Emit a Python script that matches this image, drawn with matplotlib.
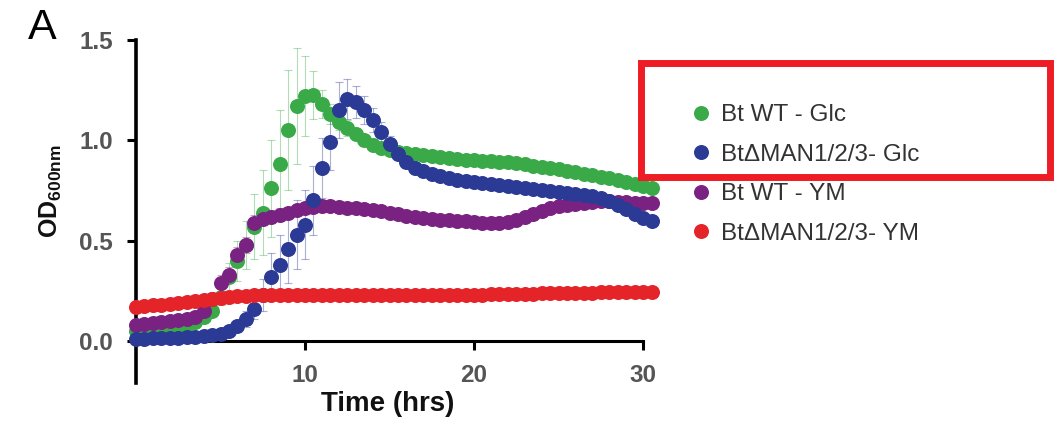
import numpy as np
import matplotlib
matplotlib.use("Agg")
import matplotlib.pyplot as plt
from matplotlib.patches import Rectangle

plt.rcParams['font.family'] = ['Liberation Sans', 'DejaVu Sans']
plt.rcParams['mathtext.fontset'] = 'custom'
plt.rcParams['mathtext.rm'] = 'Liberation Sans'
plt.rcParams['mathtext.bf'] = 'Liberation Sans:bold'

# ---------------- data ----------------
time_hrs = [i * 0.5 for i in range(62)]  # 0 .. 30.5 h

wt_glc = [0.05, 0.05, 0.055, 0.06, 0.065, 0.07, 0.08, 0.095, 0.12, 0.15,
          0.22, 0.32, 0.40, 0.48, 0.57, 0.64, 0.76, 0.88, 1.05, 1.17,
          1.22, 1.225, 1.18, 1.13, 1.09, 1.06, 1.03, 1.00, 0.975, 0.96,
          0.95, 0.94, 0.935, 0.93, 0.925, 0.92, 0.915, 0.91, 0.905, 0.90,
          0.90, 0.897, 0.895, 0.893, 0.89, 0.885, 0.88, 0.872, 0.865, 0.86,
          0.855, 0.848, 0.84, 0.832, 0.825, 0.818, 0.81, 0.80, 0.79, 0.78,
          0.77, 0.76]
wt_glc_err = [0.01, 0.01, 0.01, 0.01, 0.01, 0.01, 0.01, 0.01, 0.01, 0.02,
              0.04, 0.07, 0.10, 0.12, 0.16, 0.21, 0.24, 0.27, 0.30, 0.29,
              0.20, 0.12, 0.07, 0.05, 0.04, 0.04, 0.03, 0.03, 0.03, 0.03,
              0.03, 0.03, 0.03, 0.03, 0.03, 0.03, 0.02, 0.02, 0.02, 0.02,
              0.02, 0.02, 0.02, 0.02, 0.02, 0.02, 0.02, 0.02, 0.02, 0.02,
              0.02, 0.02, 0.02, 0.02, 0.02, 0.02, 0.02, 0.02, 0.02, 0.02,
              0.02, 0.02]

man_glc = [0.01, 0.01, 0.012, 0.013, 0.015, 0.016, 0.018, 0.02, 0.022, 0.027,
           0.035, 0.05, 0.075, 0.11, 0.16, 0.23, 0.32, 0.38, 0.46, 0.53,
           0.58, 0.70, 0.86, 0.99, 1.15, 1.205, 1.19, 1.15, 1.10, 1.04,
           0.98, 0.93, 0.89, 0.86, 0.845, 0.832, 0.82, 0.81, 0.80, 0.795,
           0.79, 0.785, 0.78, 0.775, 0.77, 0.765, 0.76, 0.755, 0.75, 0.747,
           0.743, 0.738, 0.733, 0.727, 0.72, 0.71, 0.695, 0.675, 0.655, 0.635,
           0.615, 0.60]
man_glc_err = [0.01, 0.01, 0.01, 0.01, 0.01, 0.01, 0.01, 0.01, 0.01, 0.01,
               0.01, 0.02, 0.03, 0.04, 0.05, 0.08, 0.12, 0.15, 0.17, 0.17,
               0.17, 0.17, 0.15, 0.14, 0.14, 0.10, 0.08, 0.07, 0.06, 0.05,
               0.04, 0.03, 0.03, 0.03, 0.03, 0.03, 0.03, 0.03, 0.02, 0.02,
               0.02, 0.02, 0.02, 0.02, 0.02, 0.02, 0.02, 0.02, 0.02, 0.02,
               0.02, 0.02, 0.02, 0.02, 0.02, 0.02, 0.02, 0.02, 0.02, 0.02,
               0.02, 0.02]

wt_ym = [0.08, 0.085, 0.09, 0.095, 0.10, 0.105, 0.11, 0.12, 0.15, 0.21,
         0.29, 0.33, 0.43, 0.48, 0.59, 0.61, 0.62, 0.63, 0.64, 0.65,
         0.66, 0.665, 0.67, 0.67, 0.667, 0.663, 0.66, 0.655, 0.65, 0.645,
         0.64, 0.633, 0.625, 0.618, 0.612, 0.608, 0.605, 0.602, 0.60, 0.597,
         0.593, 0.59, 0.588, 0.588, 0.593, 0.603, 0.617, 0.632, 0.647, 0.66,
         0.67, 0.677, 0.683, 0.688, 0.692, 0.695, 0.695, 0.693, 0.69, 0.688,
         0.687, 0.686]
wt_ym_err = [0.01] * 8 + [0.02, 0.03, 0.04, 0.04, 0.04, 0.04, 0.04, 0.03,
                          0.03, 0.03] + [0.02] * 44

man_ym = [0.17, 0.173, 0.177, 0.181, 0.185, 0.19, 0.195, 0.20, 0.205, 0.21,
          0.215, 0.22, 0.223, 0.226, 0.228, 0.229, 0.23, 0.23, 0.23, 0.23,
          0.23, 0.23, 0.23, 0.23, 0.23, 0.23, 0.23, 0.23, 0.23, 0.23,
          0.23, 0.23, 0.23, 0.23, 0.23, 0.23, 0.23, 0.23, 0.23, 0.23,
          0.23, 0.231, 0.232, 0.233, 0.233, 0.234, 0.235, 0.236, 0.237, 0.238,
          0.238, 0.239, 0.24, 0.24, 0.241, 0.242, 0.242, 0.243, 0.244, 0.244,
          0.245, 0.245]
man_ym_err = [0.01] * 62

labels = ['Bt WT - Glc', 'Bt\u0394MAN1/2/3- Glc', 'Bt WT - YM', 'Bt\u0394MAN1/2/3- YM']
x_ticks = [10, 20, 30]
y_ticks = [0.0, 0.5, 1.0, 1.5]
y_tick_labels = ['0.0', '0.5', '1.0', '1.5']

# ---------------- figure ----------------
W, H = 1058, 424
fig = plt.figure(figsize=(W / 100, H / 100), dpi=100)
ax = fig.add_axes([136 / W, 41 / H, 515.5 / W, 343 / H])

series = [
    (wt_glc, wt_glc_err, '#3aaa49', labels[0], 3.0),
    (man_glc, man_glc_err, '#2b3a94', labels[1], 3.4),
    (wt_ym, wt_ym_err, '#7a2282', labels[2], 3.2),
    (man_ym, man_ym_err, '#e52429', labels[3], 3.6),
]

handles = {}
for vals, err, col, lab, z in series:
    ax.errorbar(time_hrs, vals, yerr=err, fmt='none', ecolor=col, alpha=0.4,
                elinewidth=0.8, capsize=3, capthick=0.8, zorder=2.6)
for vals, err, col, lab, z in series:
    ln, = ax.plot(time_hrs, vals, 'o', color=col, ms=10.8, mec='none',
                  zorder=z, clip_on=False, label=lab)
    handles[lab] = ln

ax.set_xlim(0, 30.5)
ax.set_ylim(-0.21, 1.5)

for s in ['top', 'right']:
    ax.spines[s].set_visible(False)
ax.spines['left'].set_linewidth(2.6)
ax.spines['bottom'].set_linewidth(2.2)
ax.spines['bottom'].set_position(('data', 0))
ax.spines['bottom'].set_bounds(0, 30)

ax.set_xticks(x_ticks)
ax.set_xticklabels([str(v) for v in x_ticks])
ax.set_yticks(y_ticks)
ax.set_yticklabels(y_tick_labels)
ax.tick_params(axis='both', direction='out', length=6.5, width=2.2, color='black',
               labelsize=17.5, labelcolor='#555555')
ax.tick_params(axis='x', pad=10)
ax.tick_params(axis='y', pad=10)
for lbl in ax.get_xticklabels() + ax.get_yticklabels():
    lbl.set_fontweight('bold')

ax.set_xlabel('Time (hrs)', fontsize=20, fontweight='bold', color='#111111')
ax.xaxis.set_label_coords(0.488, -0.024)
ax.set_ylabel(r'OD$_{\mathbf{600nm}}$', fontsize=18, fontweight='bold', color='#111111')
ax.yaxis.set_label_coords(-0.14, 0.56)

fig.text(28 / W, 1 - 39 / H, 'A', fontsize=31, color='black', va='baseline', ha='left')

leg = fig.legend([handles[l] for l in labels], labels, loc='upper left',
                 bbox_to_anchor=(691.5 / W, 1 - 104 / H), frameon=False,
                 fontsize=17.5, handlelength=0.8, handletextpad=0.4, borderpad=0,
                 borderaxespad=0, labelspacing=0.72, markerscale=1.0)
for t in leg.get_texts():
    t.set_color('#333333')

fig.patches.append(Rectangle((640.5 / W, 1 - 176.5 / H), 409 / W, 113.5 / H,
                             transform=fig.transFigure, fill=False,
                             edgecolor='#ee1c24', linewidth=5))

fig.savefig('out.png', dpi=100)
